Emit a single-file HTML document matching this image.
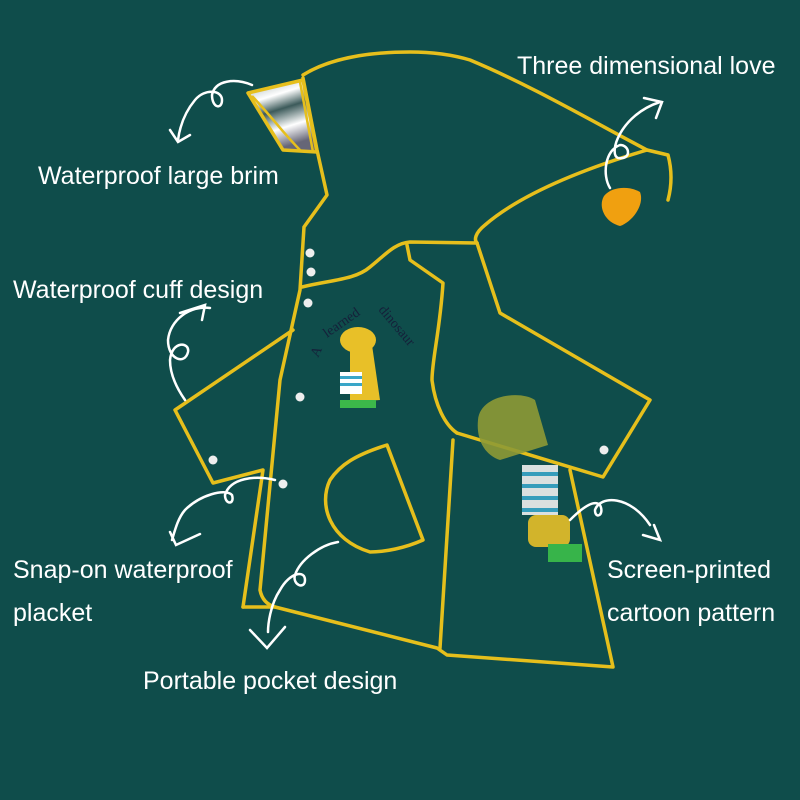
<!DOCTYPE html>
<html><head><meta charset="utf-8"><style>
html,body{margin:0;padding:0;background:#0f4d4b;}
svg{display:block}
text{font-family:"Liberation Sans",sans-serif;fill:#fff;font-size:25px}
</style></head><body>
<svg width="800" height="800" viewBox="0 0 800 800" xmlns="http://www.w3.org/2000/svg">
<defs>
<linearGradient id="br" x1="0" y1="0" x2="0.3" y2="1">
<stop offset="0" stop-color="#9aa"/><stop offset="0.3" stop-color="#fff"/><stop offset="0.5" stop-color="#3c5a5a"/><stop offset="0.75" stop-color="#fff"/><stop offset="1" stop-color="#667"/>
</linearGradient>
</defs>
<rect width="800" height="800" fill="#0f4d4b"/>
<g fill="none" stroke="#e6bf1c" stroke-width="3.5" stroke-linejoin="round" stroke-linecap="round">
<path d="M303,75 C330,58 370,52 410,52 C430,52 450,54 470,60 C530,85 590,120 647,150 L668,155 C672,170 672,185 668,200"/>
<path d="M647,150 C580,170 520,195 485,225 C475,233 474,240 477,243"/>
<path d="M303,78 L317,150 L327,195 L304,227 L300,290 L280,380 L260,590 C262,600 268,605 275,607"/>
<path d="M302,287 C330,280 355,280 370,267 C385,255 395,243 410,242 L477,243"/>
<path d="M407,245 L410,260 L443,283 C440,330 432,360 432,380 C435,405 445,425 457,433"/>
<path d="M477,243 L500,313 L650,400 L603,477 L457,433"/>
<path d="M453,440 L440,648"/>
<path d="M570,470 L613,667 L447,655 L437,648 L275,607 L243,607"/>
<path d="M293,330 L175,410 L213,483 L263,470 L243,607"/>
<path d="M387,445 L423,540 C405,548 385,552 370,552 C330,540 318,505 330,480 C340,465 355,455 387,445 Z"/>
</g>
<path d="M248,93 L303,80 L317,152 L283,150 Z" fill="url(#br)" stroke="#e6bf1c" stroke-width="3.5" stroke-linejoin="round"/>
<path d="M300,82 L313,152" stroke="#e6bf1c" stroke-width="2.5"/>
<path d="M252,96 C270,115 285,135 300,150" stroke="#e6bf1c" stroke-width="2.5" fill="none"/>
<g fill="#eee"><circle cx="310" cy="253" r="4.5"/><circle cx="311" cy="272" r="4.5"/><circle cx="308" cy="303" r="4.5"/><circle cx="300" cy="397" r="4.5"/><circle cx="283" cy="484" r="4.5"/><circle cx="213" cy="460" r="4.5"/><circle cx="604" cy="450" r="4.5"/></g>
<path d="M620,226 C604,222 598,206 604,196 C612,186 630,186 640,192 C645,205 632,222 620,226 Z" fill="#f0a010"/>
<text x="0" y="0" style="font-size:14px;fill:#15203a;font-family:'Liberation Serif',serif" transform="translate(318,358) rotate(-65)">A</text>
<text x="0" y="0" style="font-size:14px;fill:#15203a;font-family:'Liberation Serif',serif" transform="translate(327,338) rotate(-35)">learned</text>
<text x="0" y="0" style="font-size:14px;fill:#15203a;font-family:'Liberation Serif',serif" transform="translate(378,310) rotate(50)">dinosaur</text>
<ellipse cx="358" cy="340" rx="18" ry="13" fill="#e8c028"/>
<path d="M350,348 L372,345 L380,400 L350,402 Z" fill="#e8c028"/>
<rect x="340" y="372" width="22" height="22" fill="#fff"/>
<rect x="340" y="376" width="22" height="3" fill="#3aa6c8"/><rect x="340" y="383" width="22" height="3" fill="#3aa6c8"/>
<rect x="340" y="400" width="36" height="8" fill="#3cb84a"/>
<g opacity="0.9">
<path d="M478,420 C480,395 520,390 535,400 L548,445 L500,460 C485,455 476,440 478,420 Z" fill="#8e9a35"/>
<rect x="522" y="465" width="36" height="50" fill="#f0f0f0"/>
<rect x="522" y="472" width="36" height="4" fill="#3aa6c8"/><rect x="522" y="484" width="36" height="4" fill="#3aa6c8"/><rect x="522" y="496" width="36" height="4" fill="#3aa6c8"/><rect x="522" y="508" width="36" height="4" fill="#3aa6c8"/>
<rect x="528" y="515" width="42" height="32" rx="8" fill="#e8c028"/>
<rect x="548" y="544" width="34" height="18" fill="#3cc04a"/>
</g>
<g fill="none" stroke="#fff" stroke-width="2.5" stroke-linecap="round">
<path d="M252,85 C235,78 215,80 212,95 C212,108 222,110 222,100 C222,90 205,88 195,100 C185,112 180,125 178,140"/><path d="M170,130 L178,142 L190,135"/>
<path d="M610,188 C602,175 605,150 620,145 C630,145 632,160 618,158 C608,154 620,115 660,102"/><path d="M644,98 L662,102 L656,118"/>
<path d="M210,308 C190,305 170,320 168,340 C168,360 185,365 188,352 C190,342 172,340 170,360 C170,375 178,390 185,400"/>
<path d="M180,313 L205,305 L202,320"/>
<path d="M275,480 C255,475 230,478 225,495 C225,505 235,505 232,495 C225,488 200,495 185,510 C178,518 175,530 172,540"/><path d="M170,532 L176,545 L200,534"/>
<path d="M338,542 C320,545 300,560 295,575 C292,585 305,590 305,580 C305,570 290,572 280,590 C270,605 268,625 268,632"/><path d="M250,630 L267,648 L285,627"/>
<path d="M570,520 C585,505 595,500 600,505 C605,515 595,520 595,510 C600,495 630,495 650,525"/><path d="M643,535 L660,540 L654,525"/>
</g>
<text x="517" y="74">Three dimensional love</text>
<text x="38" y="184">Waterproof large brim</text>
<text x="13" y="298">Waterproof cuff design</text>
<text x="13" y="578">Snap-on waterproof</text>
<text x="13" y="621">placket</text>
<text x="143" y="689">Portable pocket design</text>
<text x="607" y="578">Screen-printed</text>
<text x="607" y="621">cartoon pattern</text>
</svg>
</body></html>
